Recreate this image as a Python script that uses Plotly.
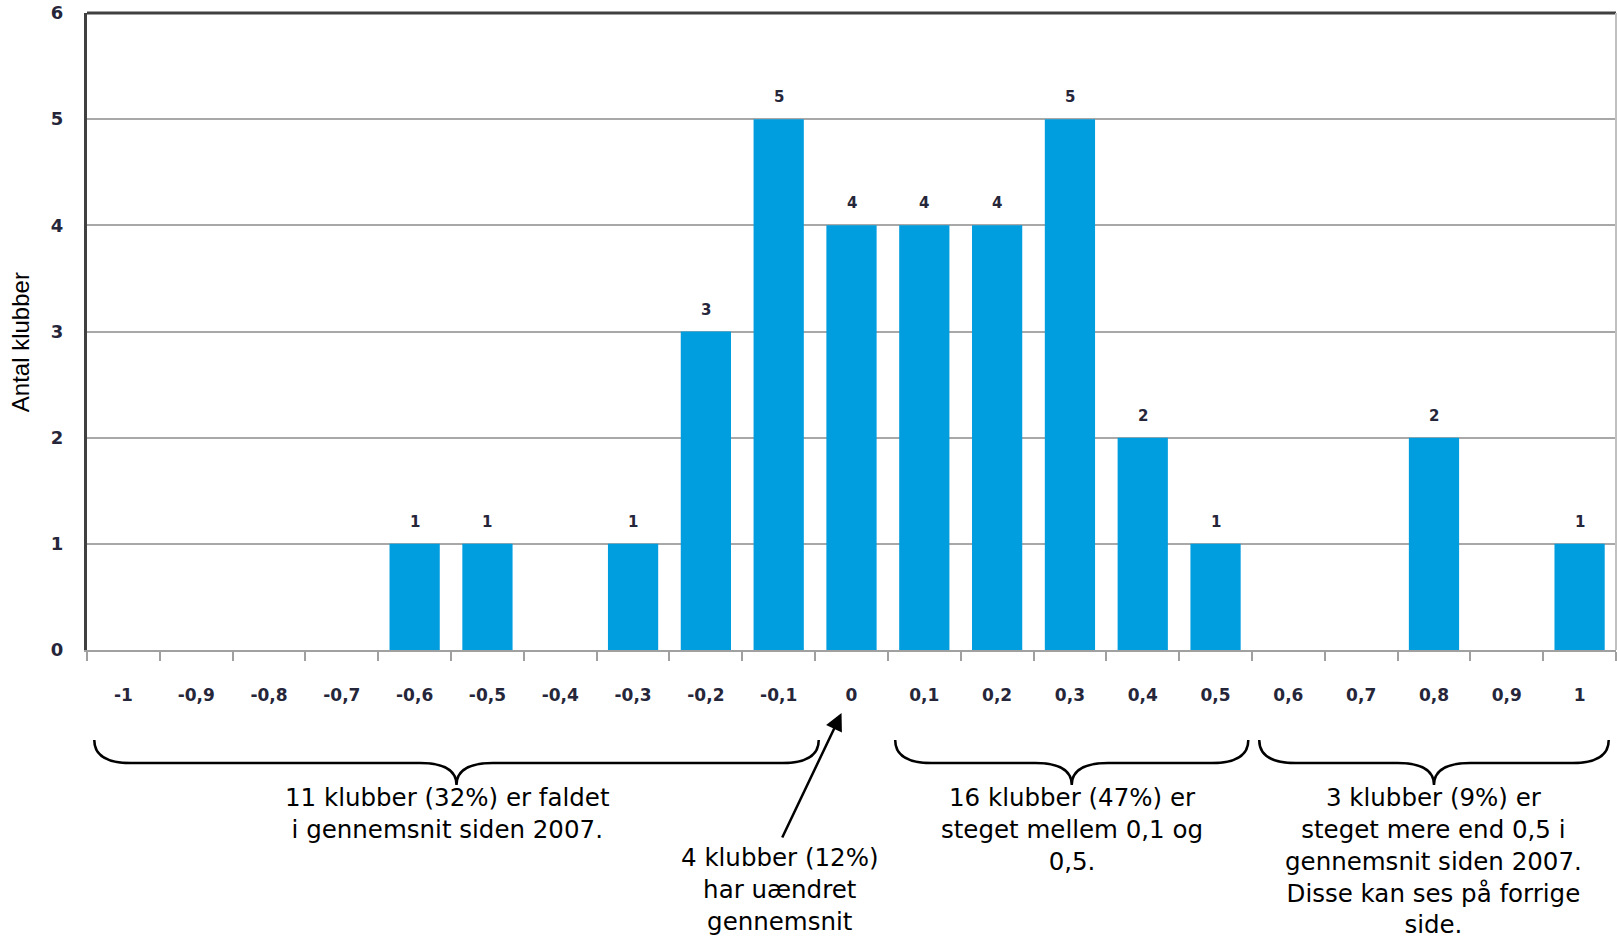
import plotly.graph_objects as go

# 1. Data
x_values = [-1.0, -0.9, -0.8, -0.7, -0.6, -0.5, -0.4, -0.3, -0.2, -0.1, 0.0,
            0.1, 0.2, 0.3, 0.4, 0.5, 0.6, 0.7, 0.8, 0.9, 1.0]
tick_labels = ["-1", "-0,9", "-0,8", "-0,7", "-0,6", "-0,5", "-0,4", "-0,3", "-0,2", "-0,1", "0",
               "0,1", "0,2", "0,3", "0,4", "0,5", "0,6", "0,7", "0,8", "0,9", "1"]
counts = [0, 0, 0, 0, 1, 1, 0, 1, 3, 5, 4, 4, 4, 5, 2, 1, 0, 0, 2, 0, 1]

y_ticks = [0, 1, 2, 3, 4, 5, 6]

# groups under the axis: (start, end) span, label x, text
group_spans = [(-1.04, -0.045), (0.06, 0.545), (0.56, 1.04)]
group_text_x = [-0.555, 0.3026, 0.80]
group_texts = [
    "11 klubber (32%) er faldet<br>i gennemsnit siden 2007.",
    "16 klubber (47%) er<br>steget mellem 0,1 og<br>0,5.",
    "3 klubber (9%) er<br>steget mere end 0,5 i<br>gennemsnit siden 2007.<br>Disse kan ses på forrige<br>side.",
]
unchanged_text = "4 klubber (12%)<br>har uændret<br>gennemsnit"

BLUE = "#009ddf"
TXT = "#26263a"
FONT = "DejaVu Sans, Verdana, sans-serif"

# 2. Bars
fig = go.Figure(go.Bar(
    x=x_values,
    y=counts,
    marker=dict(color=BLUE, line=dict(width=0)),
    width=0.069,
    hoverinfo="x+y",
))

# value labels above non-zero bars
for xv, c in zip(x_values, counts):
    if c:
        fig.add_annotation(x=xv, y=c, text=str(c), showarrow=False, yshift=22,
                           yanchor="middle",
                           font=dict(family=FONT, size=15, color=TXT, weight="bold"))

# 3. Braces under the axis (paper y below the plot)
y_top, y_mid, y_tip, r = -0.1414, -0.1775, -0.212, 0.05


def brace_path(xa, xb):
    xm = (xa + xb) / 2
    return (f"M {xa},{y_top} Q {xa},{y_mid} {xa + r},{y_mid} L {xm - r},{y_mid} "
            f"Q {xm},{y_mid} {xm},{y_tip} Q {xm},{y_mid} {xm + r},{y_mid} "
            f"L {xb - r},{y_mid} Q {xb},{y_mid} {xb},{y_top}")


for (xa, xb), tx, txt in zip(group_spans, group_text_x, group_texts):
    fig.add_shape(type="path", path=brace_path(xa, xb), xref="x", yref="paper",
                  line=dict(color="black", width=2.5))
    fig.add_annotation(x=tx, y=-0.206, xref="x", yref="paper", text=txt, showarrow=False,
                       xanchor="center", yanchor="top", align="center",
                       font=dict(family=FONT, size=24.5, color="black"))

# unchanged group: text + arrow pointing to 0
fig.add_annotation(x=-0.0985, y=-0.300, xref="x", yref="paper", text=unchanged_text,
                   showarrow=False, xanchor="center", yanchor="top", align="center",
                   font=dict(family=FONT, size=24.5, color="black"))
fig.add_annotation(x=-0.0137, y=-0.099, xref="x", yref="paper", ax=-60, ay=126,
                   axref="pixel", ayref="pixel", text="", showarrow=True,
                   arrowhead=2, arrowsize=1.4, arrowwidth=2.5, arrowcolor="black")

# y axis title as rotated text
fig.add_annotation(x=-0.0435, y=0.484, xref="paper", yref="paper", text="Antal klubber",
                   textangle=-90, showarrow=False, xanchor="center", yanchor="middle",
                   font=dict(family="Liberation Sans, Arial, sans-serif", size=24, color="black"))

# frame: dark top line, light right line
fig.add_shape(type="line", xref="paper", yref="paper", x0=0, x1=1, y0=1, y1=1,
              line=dict(color="#404040", width=3))
fig.add_shape(type="line", xref="paper", yref="paper", x0=1, x1=1, y0=0, y1=1,
              line=dict(color="#c0c0c0", width=2))

# 4. Layout
fig.update_layout(
    width=1617, height=938,
    margin=dict(l=87, r=1, t=13, b=288),
    plot_bgcolor="white", paper_bgcolor="white",
    showlegend=False,
    bargap=0.31,
    xaxis=dict(
        range=[-1.05, 1.05],
        tickmode="array", tickvals=x_values, ticktext=tick_labels,
        ticks="", ticklabelstandoff=29,
        tickfont=dict(family=FONT, size=17, color=TXT, weight="bold"),
        showgrid=False, zeroline=False,
        showline=True, linecolor="#a0a0a0", linewidth=2,
        minor=dict(tickmode="linear", tick0=-1.05, dtick=0.1, ticks="outside",
                   ticklen=9, tickwidth=2, tickcolor="#a0a0a0", showgrid=False),
        fixedrange=True,
    ),
    yaxis=dict(
        range=[0, 6],
        tickmode="array", tickvals=y_ticks,
        ticks="", ticklabelstandoff=17,
        tickfont=dict(family=FONT, size=18, color=TXT, weight="bold"),
        showgrid=True, gridcolor="#a8a8a8", gridwidth=2,
        zeroline=False,
        showline=True, linecolor="#404040", linewidth=3,
        fixedrange=True,
    ),
)

fig.write_html("out.html", config={"displayModeBar": False},
               post_script="document.body.style.margin='0';")
